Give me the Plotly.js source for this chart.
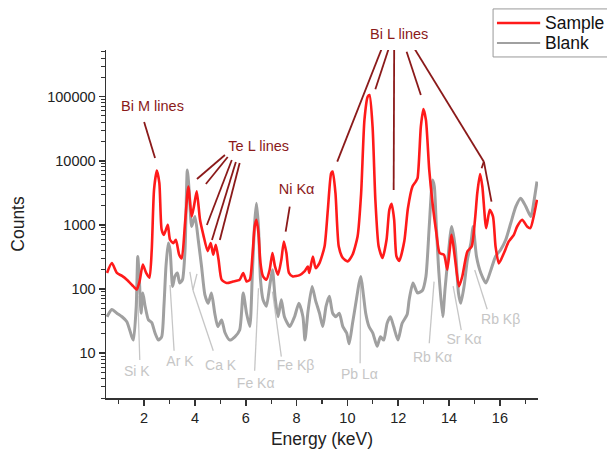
<!DOCTYPE html>
<html>
<head>
<meta charset="utf-8">
<script src="https://cdn.plot.ly/plotly-3.0.1.min.js"></script>
<style>html,body{margin:0;padding:0;background:#fff;}#chart{width:607px;height:454px;}</style>
</head>
<body>
<div id="chart"></div>
<script>
// ---- Data (energy in keV, counts) ----
const sampleEnergy = [0.54,0.73,0.93,1.13,1.32,1.58,1.71,1.82,1.95,2.08,2.21,2.30,2.39,2.50,2.60,2.69,2.78,2.93,3.02,3.15,3.25,3.38,3.48,3.61,3.74,3.87,3.96,4.07,4.20,4.33,4.50,4.62,4.72,4.82,4.93,5.05,5.25,5.50,5.76,5.90,6.03,6.16,6.26,6.35,6.42,6.50,6.58,6.68,6.81,6.94,7.05,7.15,7.27,7.40,7.50,7.60,7.70,7.85,8.12,8.31,8.44,8.50,8.64,8.75,8.90,9.10,9.23,9.36,9.42,9.53,9.66,9.82,10.01,10.20,10.40,10.54,10.67,10.80,10.87,10.99,11.10,11.23,11.38,11.54,11.65,11.74,11.84,11.93,12.04,12.24,12.38,12.56,12.69,12.76,12.89,12.99,13.09,13.22,13.35,13.50,13.63,13.80,13.93,14.10,14.24,14.39,14.52,14.72,14.89,15.02,15.11,15.22,15.31,15.46,15.60,15.73,15.83,15.96,16.16,16.35,16.55,16.68,16.88,17.07,17.20,17.33,17.46];
const sampleCounts = [178,254,178,160,140,110,98,131,240,178,150,409,3525,7030,4480,839,700,1000,586,520,586,342,300,1070,3970,1350,1940,3330,1200,700,390,520,342,490,286,140,124,131,140,178,131,140,322,944,1200,745,254,157,140,199,364,225,167,286,552,364,178,157,165,188,225,178,322,212,254,460,1720,6400,6800,3120,460,304,270,342,660,3120,43400,100000,106000,34000,2470,460,304,586,1720,2130,1200,322,275,560,1800,3970,4740,5350,34000,64000,43400,7200,2180,745,364,342,200,700,286,110,157,385,460,1200,3120,6200,3970,890,1720,1350,460,250,364,552,700,944,1200,944,890,1350,2470];

const blankEnergy = [0.54,0.73,0.93,1.13,1.32,1.51,1.58,1.69,1.75,1.82,1.88,1.95,2.04,2.17,2.30,2.43,2.56,2.69,2.78,2.86,2.95,3.02,3.12,3.21,3.31,3.40,3.51,3.61,3.70,3.78,3.87,4.00,4.13,4.26,4.39,4.52,4.65,4.78,4.90,5.05,5.18,5.37,5.57,5.76,5.90,6.03,6.16,6.26,6.35,6.42,6.50,6.58,6.68,6.81,6.94,7.05,7.15,7.27,7.40,7.52,7.73,7.92,8.09,8.25,8.33,8.45,8.61,8.74,8.90,9.03,9.16,9.29,9.42,9.55,9.68,9.82,9.97,10.07,10.20,10.33,10.46,10.53,10.62,10.72,10.85,11.00,11.17,11.30,11.43,11.56,11.69,11.82,11.99,12.15,12.35,12.43,12.58,12.76,12.95,13.09,13.22,13.35,13.42,13.50,13.60,13.75,13.84,13.95,14.10,14.24,14.37,14.46,14.59,14.72,14.86,14.95,15.08,15.25,15.45,15.65,15.83,16.03,16.23,16.43,16.63,16.82,17.02,17.22,17.35,17.46];
const blankCounts = [37,48,42,37,31,18.3,16,54,322,124,42,87,54,33,30,20.6,16,18,54,225,520,409,110,157,178,124,140,409,7200,3120,944,1350,586,225,82,60,87,42,26,33,21,16,18,23,87,42,26,178,1070,2180,944,140,68,54,110,200,77,37,68,37,26,37,60,37,16,45,110,68,42,26,54,77,42,37,42,26,20.6,14,29,60,124,157,87,42,26,20.6,12.8,18,16,29,37,26,16,29,40,68,124,87,95,157,944,5000,3970,944,178,37,98,286,944,460,87,60,110,286,520,944,322,178,124,200,322,409,586,1070,1940,2600,1940,1350,2470,4740];

const seriesNames = ["Sample", "Blank"];

// Peak labels: text, energy (keV), counts
const redLabelText = ["Bi M lines", "Te L lines", "Ni Kα"];
const redLabelX = [2.33, 6.51, 8.0];
const redLabelY = [67300, 16200, 3500];
const topLabelText = "Bi L lines";
const topLabelX = 12.04;

const grayLabelText = ["Si K", "Ar K", "Ca K", "Fe Kα", "Fe Kβ", "Pb Lα", "Rb Kα", "Sr Kα", "Rb Kβ"];
const grayLabelX = [1.71, 3.41, 5.01, 6.39, 7.96, 10.47, 13.35, 14.59, 16.03];
const grayLabelY = [4.97, 7.11, 6.31, 3.30, 6.31, 4.41, 8.32, 15.6, 31.8];

// Leader lines: [E0, log10(C0), E1, log10(C1)]
const redLeaders = [
  [2.00,4.605,2.43,4.043],
  [5.18,4.090,4.08,3.716],
  [5.29,4.059,4.43,3.638],
  [5.45,4.012,4.47,2.999],
  [5.61,3.981,4.67,2.765],
  [5.76,3.965,4.98,2.765],
  [7.73,3.284,7.57,2.894],
  [11.38,5.779,9.60,3.986],
  [11.65,5.779,11.10,5.115],
  [11.84,5.727,11.82,3.544],
  [12.33,5.701,12.89,5.026],
  [12.63,5.754,15.37,3.986],
  [15.37,3.986,15.28,3.883],
  [15.37,3.986,15.67,3.362]
];
const grayLeaders = [
  [1.83,0.894,1.75,1.892],
  [3.18,1.039,3.02,2.063],
  [4.72,1.039,3.92,1.985],
  [3.80,2.266,3.92,1.985],
  [3.92,1.985,4.08,2.235],
  [6.35,0.727,6.50,2.012],
  [7.40,0.945,7.05,1.959],
  [10.50,0.842,10.52,2.168],
  [13.22,1.154,13.41,2.115],
  [14.48,1.361,14.16,2.047],
  [15.50,1.684,15.01,2.297]
];

// ---- Styles ----
const FONT = "Liberation Sans, Arial, sans-serif";
const RED = "#ff1a1a";
const GRAY = "#a0a0a0";
const DARKRED = "#8b1a1a";
const LIGHTGRAY = "#c6c6c6";

function leaderTrace(segs, color, width) {
  const xs = [], ys = [];
  segs.forEach(s => { xs.push(s[0], s[2], null); ys.push(Math.pow(10, s[1]), Math.pow(10, s[3]), null); });
  return {x: xs, y: ys, mode: "lines", type: "scatter", line: {color: color, width: width},
          showlegend: false, hoverinfo: "skip", cliponaxis: false};
}
function labelTrace(texts, xs, ys, color, size) {
  return {x: xs, y: ys, text: texts, mode: "text", type: "scatter", textposition: "middle center",
          textfont: {family: FONT, size: size, color: color}, showlegend: false, hoverinfo: "skip", cliponaxis: false};
}

const traces = [
  leaderTrace(grayLeaders, LIGHTGRAY, 1.3),
  {x: blankEnergy, y: blankCounts, name: seriesNames[1], type: "scatter", mode: "lines",
   line: {color: GRAY, width: 3, shape: "spline", smoothing: 0.6}, showlegend: false},
  {x: sampleEnergy, y: sampleCounts, name: seriesNames[0], type: "scatter", mode: "lines",
   line: {color: RED, width: 2.6, shape: "spline", smoothing: 0.6}, showlegend: false},
  leaderTrace(redLeaders, DARKRED, 1.8),
  labelTrace(grayLabelText, grayLabelX, grayLabelY, LIGHTGRAY, 14),
  labelTrace(redLabelText, redLabelX, redLabelY, DARKRED, 14.5)
];

// Hand-built legend (paper coordinates relative to the plot area)
const legendShapes = [
  {type: "rect", xref: "paper", yref: "paper", x0: 0.896, x1: 1.2, y0: 0.980, y1: 1.118,
   line: {color: "#999", width: 1}, fillcolor: "#fff", layer: "above"},
  {type: "line", xref: "paper", yref: "paper", x0: 0.905, x1: 1.005, y0: 1.0776, y1: 1.0776,
   line: {color: RED, width: 2.6}},
  {type: "line", xref: "paper", yref: "paper", x0: 0.905, x1: 1.005, y0: 1.0201, y1: 1.0201,
   line: {color: GRAY, width: 2.2}}
];
const annotations = [
  {xref: "paper", yref: "paper", x: 1.012, y: 1.0776, xanchor: "left", yanchor: "middle", showarrow: false,
   text: seriesNames[0], font: {family: FONT, size: 17.5, color: "#111"}},
  {xref: "paper", yref: "paper", x: 1.012, y: 1.0201, xanchor: "left", yanchor: "middle", showarrow: false,
   text: seriesNames[1], font: {family: FONT, size: 17.5, color: "#111"}},
  {xref: "x", yref: "paper", x: topLabelX, y: 1.046, xanchor: "center", yanchor: "middle", showarrow: false,
   text: topLabelText, font: {family: FONT, size: 14.5, color: DARKRED}}
];

const layout = {
  width: 607, height: 454,
  margin: {l: 106, r: 69, t: 50, b: 56},
  paper_bgcolor: "#fff", plot_bgcolor: "#fff",
  font: {family: FONT, size: 14.5, color: "#222"},
  showlegend: false,
  xaxis: {range: [0.5, 17.5], tickmode: "linear", tick0: 0, dtick: 2, ticks: "outside", ticklen: 6,
          tickwidth: 1.5, tickcolor: "#333", showline: true, linecolor: "#333", linewidth: 1.5,
          showgrid: false, zeroline: false, mirror: false,
          minor: {ticks: "outside", ticklen: 4, tickwidth: 1.2, tickcolor: "#333", dtick: 1, tick0: 0, showgrid: false},
          tickfont: {family: FONT, size: 14.5, color: "#222"},
          title: {text: "Energy (keV)", font: {family: FONT, size: 17.5, color: "#222"}, standoff: 8}},
  yaxis: {type: "log", range: [Math.log10(2), 5.727], tickmode: "linear", tick0: 0, dtick: 1,
          tickformat: "d", ticks: "outside", ticklen: 6, tickwidth: 1.5, tickcolor: "#333",
          showline: true, linecolor: "#333", linewidth: 1.5, showgrid: false, zeroline: false, mirror: false,
          minor: {ticks: "outside", ticklen: 3.5, tickwidth: 1, tickcolor: "#333", dtick: "D1", showgrid: false},
          tickfont: {family: FONT, size: 14.5, color: "#222"},
          title: {text: "Counts", font: {family: FONT, size: 17.5, color: "#222"}, standoff: 18}},
  shapes: legendShapes,
  annotations: annotations
};

Plotly.newPlot("chart", traces, layout, {displayModeBar: false, staticPlot: true});
</script>
</body>
</html>
